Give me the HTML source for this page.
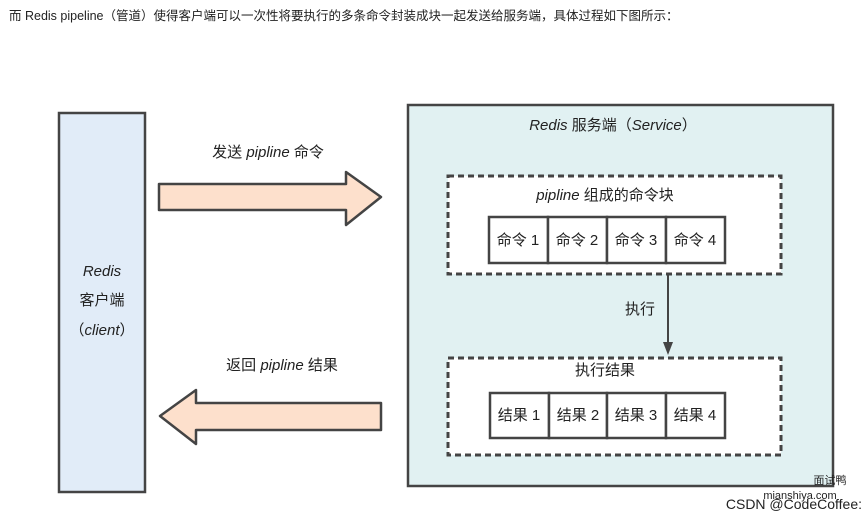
<!DOCTYPE html>
<html><head><meta charset="utf-8"><style>
html,body{margin:0;padding:0;background:#fff;width:865px;height:519px;overflow:hidden}
svg{display:block}
text{font-family:"Liberation Sans","Noto Sans CJK SC",sans-serif;fill:#222}
.it{font-style:italic}
</style></head><body>
<svg width="865" height="519" viewBox="0 0 865 519" xmlns="http://www.w3.org/2000/svg">
<text x="9" y="20" font-size="12.5" fill="#333">而 Redis pipeline（管道）使得客户端可以一次性将要执行的多条命令封装成块一起发送给服务端，具体过程如下图所示：</text>

<!-- client -->
<rect x="59" y="113" width="86" height="379" fill="#e1ecf8" stroke="#444" stroke-width="2.5"/>
<text x="102" y="276" font-size="15" text-anchor="middle" class="it">Redis</text>
<text x="102" y="305" font-size="15" text-anchor="middle">客户端</text>
<text x="102" y="335" font-size="15" text-anchor="middle">（<tspan class="it">client</tspan>）</text>

<!-- send arrow -->
<text x="268" y="157" font-size="15" text-anchor="middle">发送 <tspan class="it">pipline</tspan> 命令</text>
<polygon points="159,184 346,184 346,172 381,197 346,225 346,210 159,210" fill="#fde0cc" stroke="#444" stroke-width="2.5" stroke-linejoin="round"/>

<!-- return arrow -->
<text x="282" y="370" font-size="15" text-anchor="middle">返回 <tspan class="it">pipline</tspan> 结果</text>
<polygon points="381,403 196,403 196,390 160,416 196,444 196,430 381,430" fill="#fde0cc" stroke="#444" stroke-width="2.5" stroke-linejoin="round"/>

<!-- server -->
<rect x="408" y="105" width="425" height="381" fill="#e1f1f2" stroke="#444" stroke-width="2.5"/>
<text x="613" y="130" font-size="15" text-anchor="middle"><tspan class="it">Redis</tspan> 服务端（<tspan class="it">Service</tspan>）</text>

<rect x="448" y="176" width="333" height="98" fill="#fff" stroke="#444" stroke-width="3" stroke-dasharray="6,4"/>
<text x="605" y="200" font-size="15" text-anchor="middle"><tspan class="it">pipline</tspan> 组成的命令块</text>
<g stroke="#444" stroke-width="2.5" fill="#fff">
<rect x="489" y="217" width="59" height="46"/><rect x="548" y="217" width="59" height="46"/><rect x="607" y="217" width="59" height="46"/><rect x="666" y="217" width="59" height="46"/>
</g>
<g font-size="15" text-anchor="middle">
<text x="518" y="245">命令 1</text><text x="577" y="245">命令 2</text><text x="636" y="245">命令 3</text><text x="695" y="245">命令 4</text>
</g>

<line x1="668" y1="274" x2="668" y2="344" stroke="#444" stroke-width="2"/>
<polygon points="663,342 673,342 668,355" fill="#444"/>
<text x="640" y="314" font-size="15" text-anchor="middle">执行</text>

<rect x="448" y="358" width="333" height="97" fill="#fff" stroke="#444" stroke-width="3" stroke-dasharray="6,4"/>
<text x="605" y="375" font-size="15" text-anchor="middle">执行结果</text>
<g stroke="#444" stroke-width="2.5" fill="#fff">
<rect x="490" y="393" width="59" height="45"/><rect x="549" y="393" width="58" height="45"/><rect x="607" y="393" width="59" height="45"/><rect x="666" y="393" width="59" height="45"/>
</g>
<g font-size="15" text-anchor="middle">
<text x="519" y="420">结果 1</text><text x="578" y="420">结果 2</text><text x="636" y="420">结果 3</text><text x="695" y="420">结果 4</text>
</g>

<text x="830" y="484" font-size="11" fill="#aaa" text-anchor="middle">面试鸭</text>
<text x="800" y="499" font-size="11" fill="#bbb" text-anchor="middle">mianshiya.com</text>
<text x="862" y="509" font-size="14" fill="#bbb" text-anchor="end">CSDN @CodeCoffee:</text>
</svg>
</body></html>
